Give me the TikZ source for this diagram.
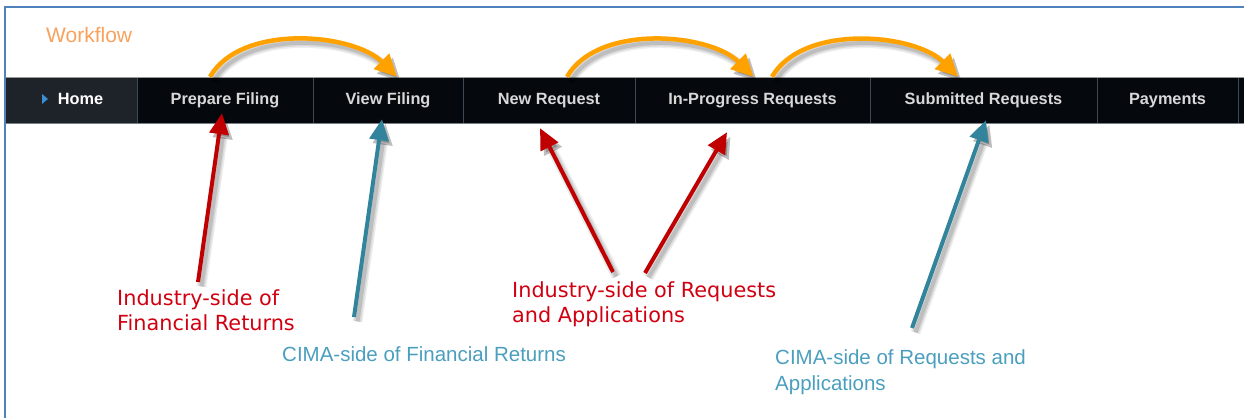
\documentclass[tikz,border=0pt]{standalone}
\usepackage{fontspec}
\setmainfont{Liberation Sans}
\newfontfamily\verd{DejaVu Sans}
\usetikzlibrary{arrows.meta}
\definecolor{frame}{HTML}{4F81BD}
\definecolor{barbg}{HTML}{05080C}
\definecolor{homebg}{HTML}{1D2328}
\definecolor{sepline}{HTML}{3B4A55}
\definecolor{flow}{HTML}{FFA200}
\definecolor{ind}{HTML}{C00000}
\definecolor{indtext}{HTML}{D00010}
\definecolor{cima}{HTML}{31849B}
\definecolor{cimatext}{HTML}{4A9EBE}
\definecolor{wf}{HTML}{F9A15C}
\definecolor{navtext}{HTML}{D8D8D8}
\definecolor{tri}{HTML}{3A8ED0}

\begin{document}
\begin{tikzpicture}[x=1pt,y=1pt,
  tab/.style={minimum width=#1,minimum height=46pt,inner sep=0pt,text height=11.7pt,
    text depth=3.5pt,text=navtext,font=\fontsize{16.3}{18}\selectfont\bfseries},
  shd/.style args={#1/#2}{preaction={draw=black,opacity=#1,line width=#2,
    transform canvas={shift={(3.5pt,-4.5pt)}}}},
  shad/.style={shd=.07/10pt,shd=.09/7pt,shd=.12/4pt},
  flowarr/.style={flow,-{Triangle[length=22pt,width=21pt]},shad,line width=4.5pt},
  indarr/.style={ind,-{Triangle[length=21pt,width=19pt]},shad,line width=4pt},
  cimaarr/.style={cima,-{Triangle[length=21pt,width=19pt]},shad,line width=4pt},
  indlab/.style={text=indtext,font=\verd\fontsize{20.8}{25}\selectfont,align=left,
    inner sep=0pt,anchor=north west},
  cimalab/.style={text=cimatext,font=\fontsize{20.5}{26}\selectfont,align=left,inner sep=0pt}]
  \useasboundingbox (0,0) rectangle (1244,418);
  \draw[frame,line width=2pt] (5,0) -- (5,411) -- (1244,411);
  \node[text=wf,font=\fontsize{21}{24}\selectfont,anchor=base west,inner sep=0pt] (wf) at (46,375) {Workflow};

  % menu bar
  \fill[barbg] (6,295) rectangle (1244,341);
  \node[tab=131pt,fill=homebg,text=white] (home) at (71.5,318) {\hspace{18pt}Home};
  \fill[tri] (42,324) -- (48,319) -- (42,314) -- cycle;
  \node[tab=176pt] (prep) at (225,318) {Prepare Filing};
  \node[tab=150pt] (view) at (388,318) {View Filing};
  \node[tab=172pt] (newreq) at (549,318) {New Request};
  \node[tab=235pt] (inprog) at (752.5,318) {In-Progress Requests};
  \node[tab=227pt] (submit) at (983.5,318) {Submitted Requests};
  \node[tab=141pt] (pay) at (1167.5,318) {Payments};
  \foreach \n in {home,prep,view,newreq,inprog,submit,pay}
    \draw[sepline] (\n.north east) -- (\n.south east);
  \draw[gray!80] (6,341) -- (1244,341);
  \draw[sepline!70!white] (6,295) -- (1244,295);

  % workflow arcs
  \draw[flowarr] ([xshift=-15pt]prep.north) to[out=60,in=135,looseness=.85] ([xshift=9pt]view.north);
  \draw[flowarr] ([xshift=18pt]newreq.north) to[out=60,in=135,looseness=.85] ([xshift=1pt]inprog.north);
  \draw[flowarr] ([xshift=19.5pt]inprog.north) to[out=60,in=135,looseness=.85] ([xshift=-25.5pt]submit.north);

  % labels
  \node[indlab] (indfin) at (117,129) {Industry-side of\\Financial Returns};
  \node[indlab] (indreq) at (512,137) {Industry-side of Requests\\and Applications};
  \node[cimalab,anchor=base west] (cimafin) at (282,57) {CIMA-side of Financial Returns};
  \node[cimalab,anchor=north west] (cimareq) at (775,69) {CIMA-side of Requests and\\Applications};

  % pointers
  \coordinate (p1) at (198,136);
  \coordinate (p2) at (354,101);
  \coordinate (p3) at (613,146);
  \coordinate (p4) at (645,145);
  \coordinate (p5) at (912,90);
  \draw[indarr] (p1) -- ([shift={(-3pt,10pt)}]prep.south);
  \draw[cimaarr] (p2) -- ([shift={(-6pt,4pt)}]view.south);
  \draw[indarr] (p3) -- ([shift={(-9pt,-5pt)}]newreq.south);
  \draw[indarr] (p4) -- ([shift={(-25.5pt,-9pt)}]inprog.south);
  \draw[cimaarr] (p5) -- ([shift={(2.5pt,3pt)}]submit.south);
\end{tikzpicture}
\end{document}
